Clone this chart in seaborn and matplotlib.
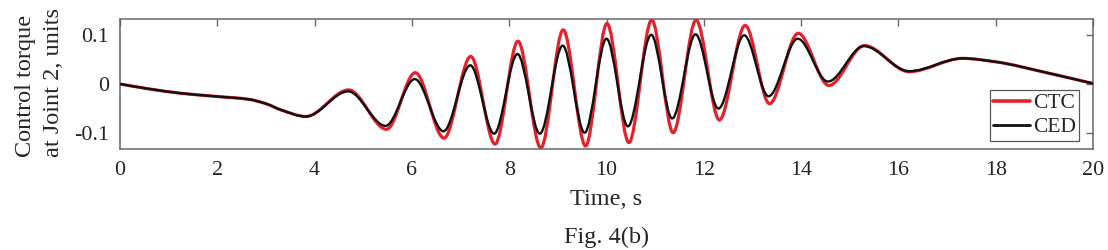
import numpy as np
import pandas as pd
import matplotlib
matplotlib.use("Agg")
import matplotlib.pyplot as plt
import seaborn as sns
from matplotlib.path import Path
from matplotlib.patches import PathPatch
from matplotlib.lines import Line2D

# ---------------- data ----------------
series_names = ["CTC", "CED"]

ctc_time = [0.0, 0.6, 1.27, 1.95, 2.64, 3.0, 3.32, 3.82, 4.70, 5.48, 6.07, 6.66,
            7.21, 7.71, 8.18, 8.65, 9.11, 9.57, 10.01, 10.46, 10.93, 11.37,
            11.84, 12.32, 12.85, 13.35, 13.94, 14.57, 15.30, 16.22, 17.32,
            18.0, 19.0, 20.0]
ctc_torque = [0.000, -0.010, -0.019, -0.025, -0.031, -0.040, -0.053, -0.066,
              -0.012, -0.092, 0.023, -0.110, 0.056, -0.122, 0.087, -0.130,
              0.110, -0.126, 0.123, -0.119, 0.130, -0.099, 0.130, -0.073,
              0.119, -0.040, 0.103, -0.003, 0.078, 0.025, 0.052,
              0.045, 0.024, 0.001]

ced_time = [0.0, 0.6, 1.27, 1.95, 2.64, 3.0, 3.32, 3.82, 4.69, 5.46, 6.06, 6.65,
            7.20, 7.69, 8.17, 8.63, 9.10, 9.55, 10.00, 10.44, 10.92, 11.35,
            11.83, 12.30, 12.83, 13.33, 13.93, 14.55, 15.29, 16.22, 17.32,
            18.0, 19.0, 20.0]
ced_torque = [0.000, -0.010, -0.019, -0.025, -0.031, -0.040, -0.053, -0.066,
              -0.015, -0.085, 0.010, -0.096, 0.038, -0.101, 0.061, -0.101,
              0.078, -0.099, 0.092, -0.086, 0.100, -0.070, 0.101, -0.050,
              0.099, -0.025, 0.092, 0.005, 0.077, 0.026, 0.052,
              0.045, 0.024, 0.001]

x_ticks = [0, 2, 4, 6, 8, 10, 12, 14, 16, 18, 20]
x_tick_labels = ["0", "2", "4", "6", "8", "10", "12", "14", "16", "18", "20"]
y_ticks = [-0.1, 0.0, 0.1]
y_tick_labels = ["-0.1", "0", "0.1"]

series_colors = {"CTC": "#e5202b", "CED": "#111111"}
series_widths = {"CTC": 2.3, "CED": 1.7}

# ---------------- figure ----------------
sns.set_theme(style="white")
plt.rcParams["font.family"] = ["Liberation Serif", "DejaVu Serif"]

df = pd.concat([
    pd.DataFrame({"time": ctc_time, "torque": ctc_torque, "series": "CTC"}),
    pd.DataFrame({"time": ced_time, "torque": ced_torque, "series": "CED"}),
], ignore_index=True)

fig = plt.figure(figsize=(11.08, 2.5), dpi=100)
ax = fig.add_axes([120 / 1108, 1 - 149 / 250, 973 / 1108, 130 / 250])

sns.lineplot(data=df, x="time", y="torque", hue="series",
             hue_order=series_names, palette=series_colors,
             estimator=None, sort=False, legend=False, ax=ax)


def smooth_path(x, y):
    """Render the polyline as a smooth (shape-preserving) Bezier path."""
    x = np.asarray(x, float)
    y = np.asarray(y, float)
    h = np.diff(x)
    d = np.diff(y) / h
    m = np.zeros_like(x)
    m[0], m[-1] = d[0], d[-1]
    for k in range(1, len(x) - 1):
        if d[k - 1] * d[k] <= 0:
            m[k] = 0.0
        else:
            w1 = 2 * h[k] + h[k - 1]
            w2 = h[k] + 2 * h[k - 1]
            m[k] = (w1 + w2) / (w1 / d[k - 1] + w2 / d[k])
    verts = [(x[0], y[0])]
    codes = [Path.MOVETO]
    for k in range(len(x) - 1):
        verts += [(x[k] + h[k] / 3, y[k] + m[k] * h[k] / 3),
                  (x[k + 1] - h[k] / 3, y[k + 1] - m[k + 1] * h[k] / 3),
                  (x[k + 1], y[k + 1])]
        codes += [Path.CURVE4] * 3
    return Path(verts, codes)


for line, name in zip(list(ax.lines), series_names):
    xd, yd = line.get_xdata(), line.get_ydata()
    patch = PathPatch(smooth_path(xd, yd), facecolor="none",
                      edgecolor=series_colors[name],
                      linewidth=series_widths[name],
                      capstyle="round", joinstyle="round",
                      zorder=2 if name == "CTC" else 3)
    ax.add_patch(patch)
    line.set_visible(False)

ax.set_xlim(0, 20)
ax.set_ylim(-0.132, 0.132)
ax.set_xticks(x_ticks)
ax.set_xticklabels(x_tick_labels)
ax.set_yticks(y_ticks)
ax.set_yticklabels(y_tick_labels)
ax.set_xlabel("")
ax.set_ylabel("")

for sp in ax.spines.values():
    sp.set_visible(True)
    sp.set_color("0.4")
    sp.set_linewidth(1.1)

ax.tick_params(axis="both", direction="in", length=5, width=1.0,
               color="0.4", labelcolor="0.15", top=True, right=True,
               labelsize=15.8)
ax.tick_params(axis="x", pad=8.5)
ax.tick_params(axis="y", pad=8)

handles = [Line2D([], [], color=series_colors[n], lw=series_widths[n] + 0.3)
           for n in series_names]
leg = ax.legend(handles, series_names, loc="lower right",
                bbox_to_anchor=((1079 - 120) / 973, (149 - 140.7) / 130),
                borderaxespad=0, frameon=True, fancybox=False,
                edgecolor="0.35", framealpha=1, fontsize=15.5,
                handlelength=1.7, handletextpad=0.15, borderpad=0.15,
                labelspacing=0.2)
leg.get_frame().set_linewidth(0.9)
for t in leg.get_texts():
    t.set_color("0.15")

cx = 606.5 / 1108
fig.text(cx, 1 - 205 / 250, "Time, s", ha="center", va="baseline",
         fontsize=17.5, color="0.15")
fig.text(cx, 1 - 243.5 / 250, "Fig. 4(b)", ha="center", va="baseline",
         fontsize=17.5, color="0.15")
fig.text(39.5 / 1108, 1 - 157 / 250, "Control torque\nat Joint 2, units",
         rotation=90, ha="center", va="bottom", multialignment="left",
         fontsize=17.5, linespacing=1.4, color="0.15")

fig.savefig("out.png", dpi=100)
